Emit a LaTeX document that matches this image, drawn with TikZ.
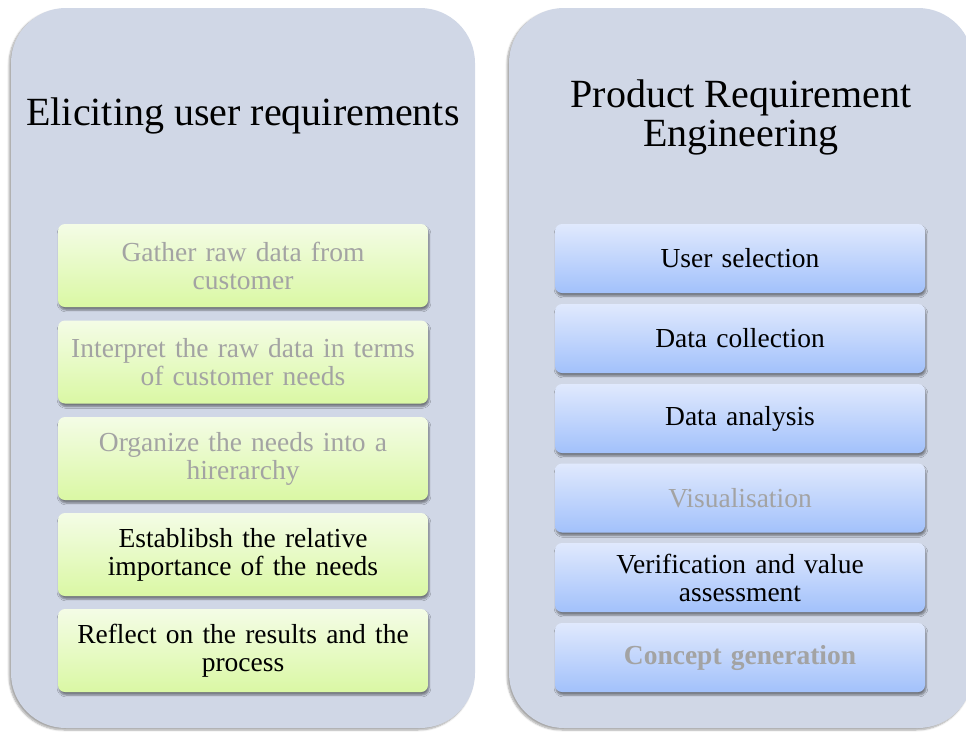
\documentclass[tikz,border=0pt]{standalone}
\usepackage{fontspec}
\setmainfont{Liberation Serif}
\usetikzlibrary{shadows,shadows.blur}
\definecolor{panelfill}{HTML}{D0D7E6}
\definecolor{greentop}{HTML}{F4FCE6}
\definecolor{greenbot}{HTML}{DAF8A4}
\definecolor{bluetop}{HTML}{E0E9FD}
\definecolor{bluebot}{HTML}{A2C1FB}
\definecolor{fadedtext}{HTML}{A3A3A3}
\tikzset{
  panel/.style={fill=panelfill, rounded corners=55pt, minimum width=464pt, minimum height=720pt,
    blur shadow={shadow xshift=-2pt, shadow yshift=-2pt, shadow blur steps=6, shadow opacity=35}},
  stepbox/.style={rounded corners=7pt, align=center, inner sep=0pt,
    font=\fontsize{27.5}{28}\selectfont,
    blur shadow={shadow xshift=1pt, shadow yshift=-3pt, shadow blur steps=5, shadow opacity=45}},
  greenbox/.style={stepbox, top color=greentop, bottom color=greenbot, minimum width=370pt, minimum height=83pt, text width=365pt},
  bluebox/.style={stepbox, top color=bluetop, bottom color=bluebot, minimum width=370pt, minimum height=69pt, text width=365pt},
  faded/.style={text=fadedtext},
  title/.style={align=center, font=\fontsize{40}{39}\selectfont}
}
\begin{document}
\begin{tikzpicture}[x=1pt,y=-1pt]
  \useasboundingbox (0,0) rectangle (966,731);
  \clip (0,0) rectangle (966,731);
  % the two column panels
  \node[panel] (leftpanel) at (243,368) {};
  \node[panel] (rightpanel) at (741,368) {};
  % column headings
  \node[title] (lefttitle) at (243,116) {Eliciting user requirements};
  \node[title] (righttitle) at (741,117) {Product Requirement\\Engineering};
  % customer-needs steps
  \node[greenbox, faded] (g1) at (243,265.5) {Gather raw data from\\customer};
  \node[greenbox, faded] (g2) at (243,362) {Interpret the raw data in terms\\of customer needs};
  \node[greenbox, faded] (g3) at (243,458.5) {Organize the needs into a\\hirerarchy};
  \node[greenbox] (g4) at (243,554.5) {Establibsh the relative\\importance of the needs};
  \node[greenbox] (g5) at (243,650.5) {Reflect on the results and the\\process};
  % product requirement steps
  \node[bluebox] (b1) at (740,258.5) {User selection};
  \node[bluebox] (b2) at (740,338.5) {Data collection};
  \node[bluebox] (b3) at (740,418.5) {Data analysis};
  \node[bluebox, faded] (b4) at (740,498) {Visualisation};
  \node[bluebox] (b5) at (740,577.5) {Verification and value\\assessment};
  \node[bluebox, faded, font=\fontsize{27.5}{28}\selectfont\bfseries] (b6) at (740,657.5) {Concept generation};
\end{tikzpicture}
\end{document}
